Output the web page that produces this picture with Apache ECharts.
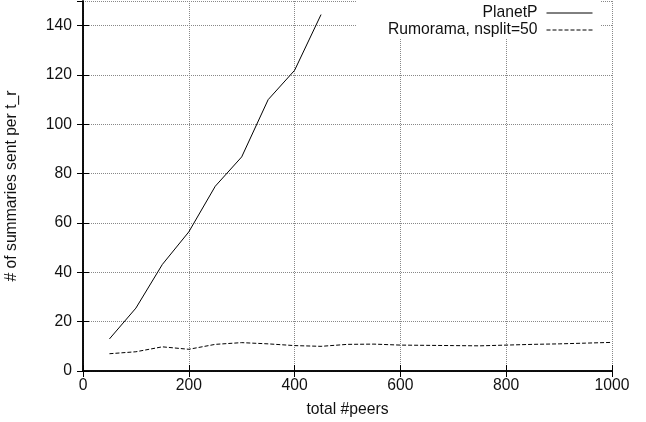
<!DOCTYPE html>
<html>
<head>
<meta charset="utf-8">
<script src="https://cdn.jsdelivr.net/npm/echarts@6/dist/echarts.min.js"></script>
<style>
html,body{margin:0;padding:0;background:#fff;}
#c{width:646px;height:422px;}
</style>
</head>
<body>
<div id="c"></div>
<script>
var planetX = [50, 100, 150, 200, 250, 300, 350, 400, 450];
var planetY = [13, 25.5, 43.2, 56.4, 74.9, 86.8, 110, 121.9, 144.5];
var rumorX = [50, 100, 150, 200, 250, 300, 350, 400, 450, 500, 550, 600, 650, 700, 750, 800, 850, 900, 950, 1000];
var rumorY = [7, 7.8, 9.8, 8.8, 10.8, 11.5, 11, 10.3, 10, 10.8, 10.9, 10.5, 10.4, 10.3, 10.2, 10.5, 10.8, 11, 11.3, 11.6];
var seriesNames = ['PlanetP', 'Rumorama, nsplit=50'];
var xTitle = 'total #peers';
var yTitle = '# of summaries sent per t_r';

function zip(xs, ys) { return xs.map(function (x, i) { return [x, ys[i]]; }); }

var FONT = 'Liberation Sans, Arial, sans-serif';
var FS = 15.7;
var TXT = '#111';
var chart = echarts.init(document.getElementById('c'), null, {renderer: 'canvas'});
var axisLine = {show: true, lineStyle: {color: '#000', width: 1.5}};
var grid = {type: 'dotted', color: '#888', width: 1};
chart.setOption({
  animation: false,
  backgroundColor: '#fff',
  textStyle: {fontFamily: FONT},
  grid: {left: 83, right: 34, top: 1, bottom: 51, containLabel: false, outerBoundsMode: 'none'},
  legend: {
    orient: 'vertical', align: 'right', right: 46, top: 0,
    padding: [5, 7, 0, 32], backgroundColor: '#fff',
    itemWidth: 46, itemHeight: 15, itemGap: 1,
    itemStyle: {opacity: 0},
    lineStyle: {width: 1},
    textStyle: {fontFamily: FONT, fontSize: FS, lineHeight: 16, color: TXT, padding: [0, 4, 0, 0]},
    data: seriesNames
  },
  xAxis: [{
    type: 'value', min: 0, max: 1000, interval: 200,
    name: xTitle, nameLocation: 'middle', nameGap: 31,
    nameTextStyle: {fontFamily: FONT, fontSize: FS, color: TXT},
    axisLine: axisLine,
    axisTick: {show: true, inside: true, length: 6, lineStyle: {color: '#000'}},
    axisLabel: {fontFamily: FONT, fontSize: FS, color: TXT, margin: 7,
      formatter: function (v) { return String(v); }},
    splitLine: {show: true, lineStyle: grid}
  }, {
    type: 'value', position: 'top', min: 0, max: 1000, interval: 200, z: 10,
    axisLine: axisLine,
    axisTick: {show: true, inside: true, length: 6, lineStyle: {color: '#000'}},
    axisLabel: {show: false}, splitLine: {show: false}
  }],
  yAxis: [{
    type: 'value', min: 0, max: 150, interval: 20,
    name: yTitle, nameLocation: 'middle', nameGap: 63, nameRotate: 90,
    nameTextStyle: {fontFamily: FONT, fontSize: FS, color: TXT},
    axisLine: axisLine,
    axisTick: {show: true, inside: true, length: 6, lineStyle: {color: '#000'}},
    axisLabel: {fontFamily: FONT, fontSize: FS, color: TXT, margin: 11, showMaxLabel: false,
      formatter: function (v) { return v % 20 === 0 ? String(v) : ''; }},
    splitLine: {show: true, lineStyle: grid}
  }, {
    type: 'value', position: 'right', min: 0, max: 150, interval: 20, z: 10,
    axisLine: axisLine,
    axisTick: {show: true, inside: true, length: 6, lineStyle: {color: '#000'}},
    axisLabel: {show: false}, splitLine: {show: false}
  }],
  series: [{
    name: seriesNames[0], type: 'line', data: zip(planetX, planetY),
    symbol: 'none', showSymbol: false, z: 3,
    lineStyle: {color: '#000', width: 1}, itemStyle: {color: '#000'}
  }, {
    name: seriesNames[1], type: 'line', data: zip(rumorX, rumorY),
    symbol: 'none', showSymbol: false, z: 3,
    lineStyle: {color: '#000', width: 1, type: [4, 2]}, itemStyle: {color: '#000'}
  }]
});
</script>
</body>
</html>
